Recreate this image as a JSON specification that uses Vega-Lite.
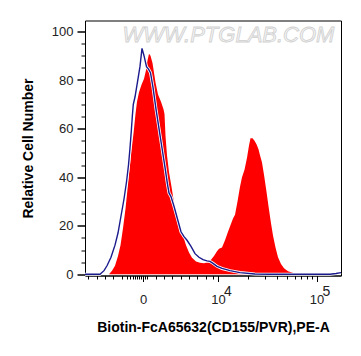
{
  "$schema": "https://vega.github.io/schema/vega-lite/v6.json",
  "width": 256,
  "height": 255,
  "autosize": {"type": "none"},
  "padding": {"left": 85, "top": 20.5, "right": 20, "bottom": 80.5},
  "background": "white",
  "config": {
    "font": "Liberation Sans",
    "view": {"stroke": "black", "strokeWidth": 1},
    "axis": {"grid": false, "domainColor": "black", "tickColor": "black", "labelColor": "#222", "titleColor": "black", "labelFont": "Liberation Sans", "titleFont": "Liberation Sans"}
  },
  "datasets": {
    "curves": [
      {"s": "sample", "x": -58, "y": 0}, {"s": "sample", "x": -34, "y": 0}, {"s": "sample", "x": -31, "y": 1.5}, {"s": "sample", "x": -28, "y": 3.5}, {"s": "sample", "x": -25, "y": 7.5}, {"s": "sample", "x": -22.5, "y": 12}, {"s": "sample", "x": -20, "y": 19}, {"s": "sample", "x": -17.5, "y": 27}, {"s": "sample", "x": -15.5, "y": 35}, {"s": "sample", "x": -13.5, "y": 43}, {"s": "sample", "x": -11.5, "y": 51}, {"s": "sample", "x": -9.5, "y": 58}, {"s": "sample", "x": -7.5, "y": 66}, {"s": "sample", "x": -6, "y": 71}, {"s": "sample", "x": -4, "y": 75}, {"s": "sample", "x": -1.5, "y": 78}, {"s": "sample", "x": 1, "y": 80.5}, {"s": "sample", "x": 3, "y": 84}, {"s": "sample", "x": 4.5, "y": 88}, {"s": "sample", "x": 6, "y": 90.8}, {"s": "sample", "x": 7.5, "y": 90}, {"s": "sample", "x": 9.5, "y": 87}, {"s": "sample", "x": 11, "y": 83}, {"s": "sample", "x": 12.5, "y": 79}, {"s": "sample", "x": 15, "y": 74}, {"s": "sample", "x": 18, "y": 71}, {"s": "sample", "x": 20.5, "y": 68}, {"s": "sample", "x": 21.5, "y": 66}, {"s": "sample", "x": 22.5, "y": 57}, {"s": "sample", "x": 24, "y": 49}, {"s": "sample", "x": 26, "y": 42}, {"s": "sample", "x": 28.5, "y": 36}, {"s": "sample", "x": 31, "y": 29.5}, {"s": "sample", "x": 34, "y": 24}, {"s": "sample", "x": 37, "y": 19.5}, {"s": "sample", "x": 40, "y": 16}, {"s": "sample", "x": 43, "y": 12}, {"s": "sample", "x": 46, "y": 9}, {"s": "sample", "x": 49, "y": 6.8}, {"s": "sample", "x": 53, "y": 5.3}, {"s": "sample", "x": 57, "y": 4.7}, {"s": "sample", "x": 61, "y": 4.5}, {"s": "sample", "x": 65, "y": 5}, {"s": "sample", "x": 68, "y": 6}, {"s": "sample", "x": 71, "y": 7.5}, {"s": "sample", "x": 74, "y": 9.5}, {"s": "sample", "x": 76, "y": 10.5}, {"s": "sample", "x": 79, "y": 11}, {"s": "sample", "x": 82, "y": 14}, {"s": "sample", "x": 85, "y": 17.5}, {"s": "sample", "x": 87, "y": 19.7}, {"s": "sample", "x": 90, "y": 23}, {"s": "sample", "x": 92, "y": 24.5}, {"s": "sample", "x": 94.5, "y": 30}, {"s": "sample", "x": 97, "y": 36}, {"s": "sample", "x": 99, "y": 40}, {"s": "sample", "x": 101.5, "y": 43}, {"s": "sample", "x": 104, "y": 48}, {"s": "sample", "x": 106, "y": 53}, {"s": "sample", "x": 107.5, "y": 56}, {"s": "sample", "x": 109.5, "y": 56}, {"s": "sample", "x": 111.5, "y": 55}, {"s": "sample", "x": 113.5, "y": 53.5}, {"s": "sample", "x": 115.5, "y": 51.5}, {"s": "sample", "x": 117, "y": 49}, {"s": "sample", "x": 119, "y": 46}, {"s": "sample", "x": 121, "y": 41}, {"s": "sample", "x": 123.5, "y": 34}, {"s": "sample", "x": 125.5, "y": 28}, {"s": "sample", "x": 128, "y": 21}, {"s": "sample", "x": 130, "y": 16}, {"s": "sample", "x": 132.5, "y": 11}, {"s": "sample", "x": 135, "y": 7}, {"s": "sample", "x": 138, "y": 4.2}, {"s": "sample", "x": 141, "y": 2.5}, {"s": "sample", "x": 145, "y": 1.2}, {"s": "sample", "x": 151, "y": 0.4}, {"s": "sample", "x": 157, "y": 0.1}, {"s": "sample", "x": 162, "y": 0}, {"s": "sample", "x": 198, "y": 0},
      {"s": "control", "x": -58, "y": 0}, {"s": "control", "x": -43, "y": 0}, {"s": "control", "x": -39, "y": 1.5}, {"s": "control", "x": -36, "y": 3.5}, {"s": "control", "x": -32, "y": 7}, {"s": "control", "x": -28, "y": 12}, {"s": "control", "x": -25, "y": 17}, {"s": "control", "x": -22, "y": 24}, {"s": "control", "x": -19, "y": 31}, {"s": "control", "x": -16.5, "y": 38}, {"s": "control", "x": -14.5, "y": 45}, {"s": "control", "x": -13, "y": 52}, {"s": "control", "x": -11.7, "y": 59}, {"s": "control", "x": -10.7, "y": 65}, {"s": "control", "x": -9.7, "y": 70}, {"s": "control", "x": -8, "y": 73}, {"s": "control", "x": -5.7, "y": 78.7}, {"s": "control", "x": -3, "y": 85.6}, {"s": "control", "x": -1, "y": 93}, {"s": "control", "x": 1, "y": 90}, {"s": "control", "x": 3.5, "y": 85.5}, {"s": "control", "x": 5.5, "y": 84.5}, {"s": "control", "x": 7.5, "y": 83}, {"s": "control", "x": 10, "y": 77}, {"s": "control", "x": 13, "y": 68}, {"s": "control", "x": 16, "y": 60}, {"s": "control", "x": 19, "y": 52}, {"s": "control", "x": 22, "y": 44}, {"s": "control", "x": 24.5, "y": 37}, {"s": "control", "x": 26, "y": 33.5}, {"s": "control", "x": 28, "y": 32}, {"s": "control", "x": 31, "y": 28}, {"s": "control", "x": 34, "y": 23.5}, {"s": "control", "x": 38, "y": 17.5}, {"s": "control", "x": 41, "y": 15.5}, {"s": "control", "x": 44, "y": 14}, {"s": "control", "x": 48, "y": 11.5}, {"s": "control", "x": 52, "y": 8.5}, {"s": "control", "x": 56, "y": 7}, {"s": "control", "x": 60, "y": 6}, {"s": "control", "x": 64, "y": 5.5}, {"s": "control", "x": 67, "y": 5.3}, {"s": "control", "x": 70, "y": 4.5}, {"s": "control", "x": 74, "y": 3.3}, {"s": "control", "x": 79, "y": 2.4}, {"s": "control", "x": 87, "y": 1.5}, {"s": "control", "x": 97, "y": 0.7}, {"s": "control", "x": 112, "y": 0.1}, {"s": "control", "x": 127, "y": 0}, {"s": "control", "x": 187, "y": 0}, {"s": "control", "x": 193, "y": 0.3}, {"s": "control", "x": 198, "y": 0.7}
    ],
    "exponents": [{"x": 75, "t": "4"}, {"x": 173.5, "t": "5"}],
    "watermark": [{"x": 85.5, "y": 98.5, "t": "WWW.PTGLAB.COM"}]
  },
  "encoding": {
    "x": {
      "type": "quantitative",
      "scale": {"domain": [-58, 198], "nice": false, "zero": false},
      "axis": {
        "title": "Biotin-FcA65632(CD155/PVR),PE-A",
        "titleFontSize": 14, "titleFontWeight": "bold", "titlePadding": 14,
        "values": [-55, -46.5, -38, -30, -21.5, -16, -13, -10, -8, -6, -4, -2, 0, 2, 4, 13, 21, 29, 38, 46, 54, 63, 70, 75, 104.7, 122, 134.3, 143.8, 151.6, 158.2, 164, 169, 173.5],
        "labelExpr": "datum.value == 0 ? '0' : (datum.value == 75 || datum.value == 173.5) ? '10' : ''",
        "labelFontSize": 13, "labelPadding": 12, "labelFlush": false, "labelOverlap": false,
        "tickSize": {"condition": {"test": "datum.value == 0 || datum.value == 75 || datum.value == 173.5", "value": 6}, "value": 3.5},
        "domainWidth": 1
      }
    },
    "y": {
      "type": "quantitative",
      "scale": {"domain": [-0.5, 104.5], "nice": false, "zero": false},
      "axis": {
        "title": "Relative Cell Number",
        "titleFontSize": 14, "titleFontWeight": "bold", "titlePadding": 16,
        "values": [0, 5, 10, 15, 20, 25, 30, 35, 40, 45, 50, 55, 60, 65, 70, 75, 80, 85, 90, 95, 100],
        "labelExpr": "datum.value % 20 == 0 ? datum.label : ''",
        "labelFontSize": 13, "labelPadding": 4, "labelOverlap": false,
        "tickSize": {"condition": {"test": "datum.value % 20 == 0", "value": 8}, "value": 4},
        "tickWidth": {"condition": {"test": "datum.value % 20 == 0", "value": 1.5}, "value": 1},
        "domainWidth": 1
      }
    }
  },
  "layer": [
    {
      "data": {"name": "watermark"},
      "mark": {"type": "text", "fontSize": 22, "fontStyle": "italic", "fill": "#f4f4f4", "stroke": "#d0d0d0", "strokeWidth": 0.8, "align": "center", "baseline": "middle"},
      "encoding": {"x": {"field": "x", "type": "quantitative"}, "y": {"field": "y", "type": "quantitative"}, "text": {"field": "t"}}
    },
    {
      "data": {"name": "curves"},
      "transform": [{"filter": "datum.s == 'sample'"}],
      "mark": {"type": "area", "color": "#ff0000", "interpolate": "linear"},
      "encoding": {"x": {"field": "x", "type": "quantitative"}, "y": {"field": "y", "type": "quantitative"}}
    },
    {
      "data": {"name": "curves"},
      "transform": [{"filter": "datum.s == 'control'"}],
      "mark": {"type": "line", "color": "white", "strokeWidth": 3, "interpolate": "linear"},
      "encoding": {"x": {"field": "x", "type": "quantitative"}, "y": {"field": "y", "type": "quantitative"}}
    },
    {
      "data": {"name": "curves"},
      "transform": [{"filter": "datum.s == 'control'"}],
      "mark": {"type": "line", "color": "#1a1a8c", "strokeWidth": 1.4, "interpolate": "linear"},
      "encoding": {"x": {"field": "x", "type": "quantitative"}, "y": {"field": "y", "type": "quantitative"}}
    },
    {
      "data": {"name": "exponents"},
      "mark": {"type": "text", "fontSize": 14, "align": "left", "baseline": "alphabetic", "dx": 6, "dy": 22, "color": "#222"},
      "encoding": {"x": {"field": "x", "type": "quantitative"}, "y": {"datum": 0}, "text": {"field": "t"}}
    }
  ]
}
